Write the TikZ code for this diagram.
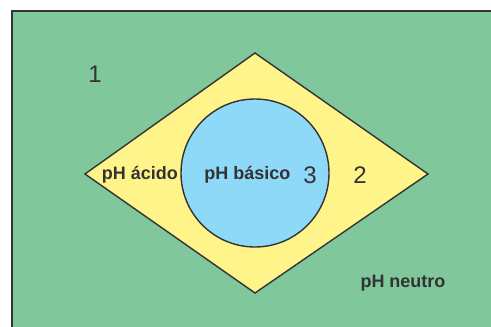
\documentclass[tikz,border=0pt]{standalone}
\usepackage{fontspec}
\setmainfont{Liberation Sans}
\usetikzlibrary{calc}
\definecolor{zonegreen}{HTML}{80C89C}
\definecolor{zoneyellow}{HTML}{FFF48A}
\definecolor{zoneblue}{HTML}{8ED8F8}
\definecolor{linegray}{HTML}{333333}
\definecolor{textgray}{HTML}{333333}

\begin{document}
\begin{tikzpicture}[x=1pt,y=-1pt,
  edge/.style={draw=linegray,line width=1.4pt},
  lbl/.style={anchor=base,inner sep=0,text=textgray,font=\bfseries\fontsize{18}{20}\selectfont},
  num/.style={anchor=base,inner sep=0,text=textgray,font=\fontsize{24}{26}\selectfont}]
\useasboundingbox (0,0) rectangle (491,327);
\begin{scope}
  \clip (0,0) rectangle (491,327);
  \draw[edge,fill=zonegreen] (12,11) rectangle (510,345);
\end{scope}
\coordinate (top) at (255,53);
\coordinate (right) at (428,174);
\coordinate (bottom) at (255,293);
\coordinate (left) at (85,174);
\draw[edge,fill=zoneyellow] (top) -- (right) -- (bottom) -- (left) -- cycle;
\draw[edge,fill=zoneblue] (255,173) circle (74pt);
\node[num] (one) at (95,82) {1};
\node[num] (two) at (360,183) {2};
\node[num] (three) at (310,183) {3};
\node[lbl] (acido) at (140,179) {pH ácido};
\node[lbl] (basico) at (247.5,179) {pH básico};
\node[lbl] (neutro) at (403,287) {pH neutro};
\end{tikzpicture}
\end{document}
